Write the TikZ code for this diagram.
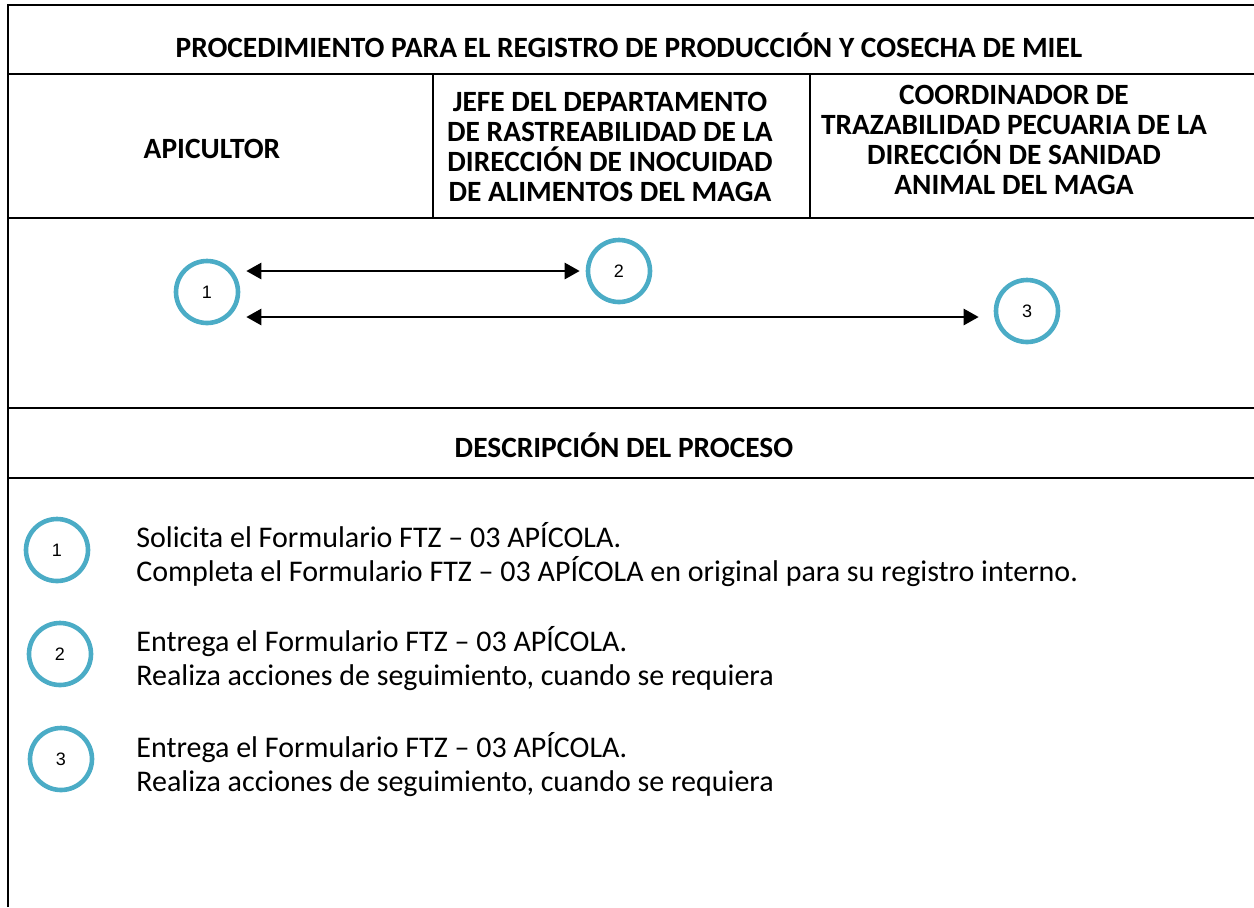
\documentclass[tikz,border=0pt]{standalone}
\usepackage{fontspec}
\setmainfont{Carlito}
\newfontfamily\numfont{Liberation Sans}
\usetikzlibrary{arrows.meta}
\definecolor{ringblue}{RGB}{75,172,198}

\begin{document}
\begin{tikzpicture}[
          x=0.5pt, y=-0.5pt,
          rule/.style={line width=1.4pt},
          head/.style={align=center, font=\fontsize{14.7}{15}\selectfont\bfseries},
          ring/.style={circle, draw=ringblue, line width=2.3pt, minimum size=31pt, inner sep=0pt, font=\numfont\fontsize{9}{10}\selectfont},
          desc/.style={anchor=west, align=left, inner xsep=0pt, font=\fontsize{15}{17}\selectfont},
          link/.style={line width=1.3pt, {Triangle[length=7.5pt,width=8pt]}-{Triangle[length=7.5pt,width=8pt]}, shorten <=3pt, shorten >=3pt}
        ]
          \useasboundingbox (0,0) rectangle (1254,907);

          \draw [rule] (8,907) -- (8,5) -- (1254,5);
          \foreach \y in {74,218,408,478}
            \draw [rule] (8,\y) -- (1254,\y);
          \foreach \x in {433,810}
            \draw [rule] (\x,74) -- (\x,218);

          \node (title) at (629,45)  [head] {PROCEDIMIENTO PARA EL REGISTRO DE PRODUCCIÓN Y COSECHA DE MIEL};
          \node (apic)  at (212,149) [head] {APICULTOR};
          \node (jefe)  at (610,147) [head] {JEFE DEL DEPARTAMENTO\\DE RASTREABILIDAD DE LA\\DIRECCIÓN DE INOCUIDAD\\DE ALIMENTOS DEL MAGA};
          \node (coord) at (1014,140) [head] {COORDINADOR DE\\TRAZABILIDAD PECUARIA DE LA\\DIRECCIÓN DE SANIDAD\\ANIMAL DEL MAGA};
          \node (descr) at (624,445) [head] {DESCRIPCIÓN DEL PROCESO};

          \node (r1) at (207,292)  [ring] {1};
          \node (r2) at (619,271)  [ring] {2};
          \node (r3) at (1027,311) [ring] {3};

          \draw [link] (r1.east |- r2.west) -- (r2.west);
          \draw [link, shorten >=7.5pt] ([yshift=-3pt]r1.east |- r3.west) -- ([yshift=-3pt]r3.west);

          \node (d1) at (57,550) [ring] {1};
          \node (d2) at (60,654) [ring] {2};
          \node (d3) at (61,759) [ring] {3};

          \node (t1) at (136,555) [desc] {%
            Solicita el Formulario FTZ – 03 APÍCOLA.\\
            Completa el Formulario FTZ – 03 APÍCOLA en original para su registro interno.
          };
          \node (t2) at (136,659) [desc] {%
            Entrega el Formulario FTZ – 03 APÍCOLA.\\
            Realiza acciones de seguimiento, cuando se requiera
          };
          \node (t3) at (136,765) [desc] {%
            Entrega el Formulario FTZ – 03 APÍCOLA.\\
            Realiza acciones de seguimiento, cuando se requiera
          };
        \end{tikzpicture}
\end{document}
